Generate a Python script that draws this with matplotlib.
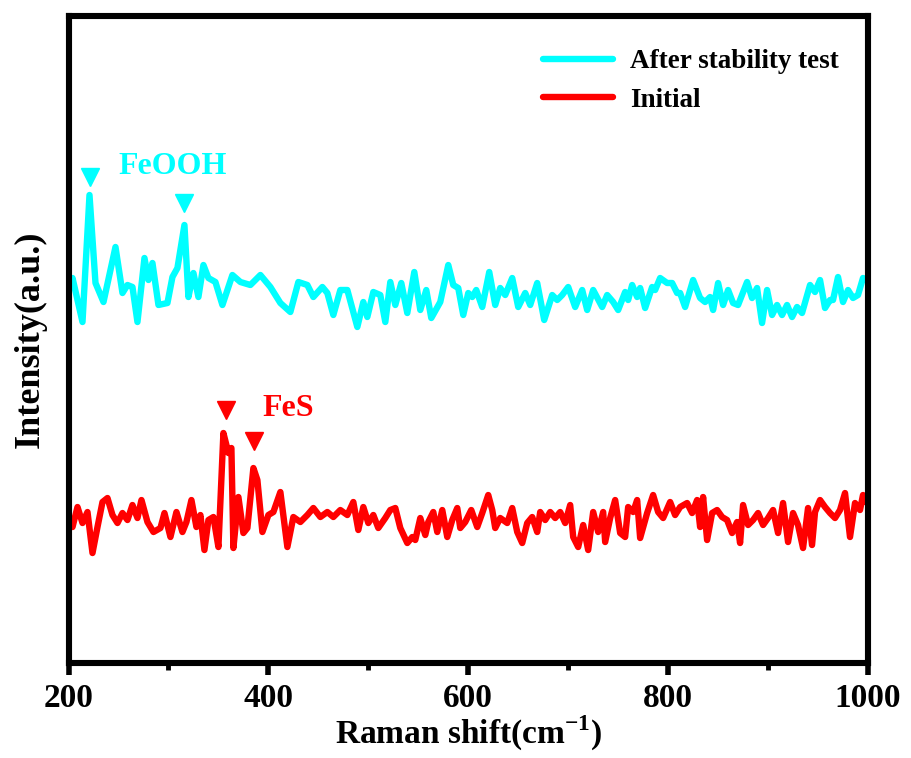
import matplotlib
matplotlib.use("Agg")
import matplotlib.pyplot as plt
from matplotlib.ticker import MultipleLocator

plt.rcParams['font.family'] = ['Liberation Serif', 'DejaVu Serif']
plt.rcParams['font.weight'] = 'bold'
plt.rcParams['mathtext.fontset'] = 'custom'
plt.rcParams['mathtext.rm'] = 'Liberation Serif:bold'
plt.rcParams['mathtext.bf'] = 'Liberation Serif:bold'

# ---- data: "After stability test" (cyan) ----
after_shift = [202, 204, 214, 221, 227, 235, 247, 254, 259, 264, 269, 276, 280, 284, 290,
               299, 304, 309, 316, 320, 325, 330, 335, 340, 347, 354, 364, 372, 382, 392,
               402, 412, 422, 430, 439, 445, 454, 459, 465, 472, 479, 489, 495, 499, 505,
               512, 517, 522, 527, 533, 539, 546, 552, 558, 563, 572, 580, 585, 590, 595,
               600, 604, 608, 614, 621, 627, 632, 637, 644, 650, 657, 662, 669, 676, 684,
               689, 694, 700, 707, 714, 719, 725, 734, 739, 745, 750, 757, 760, 764, 769,
               772, 777, 784, 787, 792, 799, 804, 809, 812, 817, 825, 832, 837, 842, 845,
               850, 855, 860, 865, 870, 879, 884, 889, 894, 899, 904, 909, 914, 919, 924,
               929, 934, 942, 947, 952, 957, 962, 965, 970, 975, 980, 985, 990, 995, 999]
after_int = [378, 385, 341, 468, 380, 361, 416, 370, 378, 376, 341, 405, 383, 400, 358,
             360, 386, 395, 438, 366, 390, 366, 398, 385, 381, 358, 388, 381, 378, 388,
             376, 360, 351, 381, 378, 366, 376, 370, 348, 373, 373, 336, 361, 346, 371,
             368, 341, 381, 358, 380, 350, 391, 353, 373, 345, 361, 398, 378, 375, 348,
             370, 366, 373, 356, 391, 358, 375, 368, 385, 356, 370, 358, 380, 343, 368,
             363, 368, 376, 356, 373, 353, 373, 356, 368, 361, 353, 371, 363, 378, 366,
             375, 355, 376, 373, 385, 380, 380, 370, 370, 356, 383, 365, 361, 366, 353,
             380, 358, 373, 360, 358, 381, 365, 375, 340, 373, 348, 358, 348, 358, 346,
             356, 350, 378, 371, 383, 355, 363, 363, 386, 361, 373, 365, 368, 385, 383]

# ---- data: "Initial" (red) ----
init_shift = [202, 204, 209, 214, 219, 224, 229, 234, 239, 244, 249, 254, 259, 264, 269,
              273, 279, 285, 292, 296, 302, 308, 314, 318, 323, 328, 332, 336, 340, 345,
              350, 355, 360, 363, 365, 370, 375, 379, 385, 389, 394, 400, 405, 412, 419,
              425, 432, 439, 445, 452, 459, 465, 472, 479, 485, 490, 495, 500, 505, 510,
              517, 522, 527, 532, 539, 544, 547, 552, 557, 560, 565, 569, 574, 579, 584,
              589, 592, 597, 603, 609, 614, 620, 624, 627, 632, 639, 644, 649, 654, 659,
              664, 669, 672, 677, 682, 687, 692, 697, 702, 705, 710, 715, 720, 725, 730,
              735, 737, 742, 747, 752, 757, 760, 765, 769, 772, 779, 785, 790, 795, 802,
              807, 812, 819, 824, 829, 832, 835, 839, 844, 849, 854, 859, 864, 869, 872,
              875, 880, 885, 890, 895, 900, 905, 910, 915, 920, 925, 930, 935, 940, 944,
              947, 952, 957, 962, 967, 972, 977, 982, 987, 992, 995, 999]
init_int = [140, 136, 156, 140, 151, 110, 136, 161, 165, 148, 140, 150, 143, 158, 145,
            163, 141, 131, 135, 150, 126, 151, 131, 141, 163, 136, 148, 113, 143, 146,
            116, 230, 210, 215, 115, 166, 130, 135, 195, 183, 131, 148, 151, 171, 116,
            146, 141, 148, 155, 146, 151, 146, 153, 148, 161, 133, 156, 140, 148, 135,
            145, 153, 155, 135, 120, 126, 123, 145, 128, 141, 151, 131, 153, 126, 143,
            155, 135, 141, 153, 136, 150, 168, 153, 135, 145, 140, 155, 131, 120, 140,
            146, 131, 151, 143, 151, 145, 151, 140, 158, 126, 116, 138, 113, 151, 131,
            151, 121, 145, 163, 130, 126, 156, 151, 163, 125, 150, 168, 151, 145, 161,
            148, 156, 160, 150, 163, 136, 166, 123, 150, 153, 146, 143, 130, 141, 120,
            158, 138, 143, 150, 138, 145, 153, 130, 160, 121, 150, 138, 115, 155, 118,
            151, 163, 156, 150, 145, 153, 170, 126, 160, 153, 168, 160]

# peak markers and labels
feooh_peaks = [222, 316]
feooh_marker_y = [486, 460]
fes_peaks = [358, 386]
fes_marker_y = [253, 222]

series_labels = ["After stability test", "Initial"]
xticks = [200, 400, 600, 800, 1000]

CYAN = "#00FFFF"
RED = "#FF0000"

fig = plt.figure(figsize=(9.11, 7.58), dpi=100)
ax = fig.add_axes([0.0752, 0.1253, 0.8776, 0.8536])

ax.plot(after_shift, after_int, color=CYAN, lw=4.6, solid_joinstyle='round',
        solid_capstyle='round', label=series_labels[0])
ax.plot(init_shift, init_int, color=RED, lw=4.6, solid_joinstyle='round',
        solid_capstyle='round', label=series_labels[1])

ax.plot(feooh_peaks, feooh_marker_y, linestyle='none', marker='v', ms=13,
        color=CYAN, mec=CYAN)
ax.plot(fes_peaks, fes_marker_y, linestyle='none', marker='v', ms=13,
        color=RED, mec=RED)
ax.text(250, 497, "FeOOH", color=CYAN, fontsize=23, fontweight='bold',
        ha='left', va='center')
ax.text(394, 255, "FeS", color=RED, fontsize=23, fontweight='bold',
        ha='left', va='center')

ax.set_xlim(200, 1000)
ax.set_ylim(0, 647)
ax.set_xticks(xticks)
ax.set_xticklabels([str(t) for t in xticks])
ax.xaxis.set_minor_locator(MultipleLocator(100))
ax.set_yticks([])
ax.tick_params(axis='x', which='major', direction='out', length=8.5, width=4,
               labelsize=24, pad=6)
ax.tick_params(axis='x', which='minor', direction='out', length=5, width=3.5)
for lab in ax.get_xticklabels():
    lab.set_fontweight('bold')

for sp in ax.spines.values():
    sp.set_linewidth(4.4)

ax.set_xlabel(r"Raman shift(cm$^{\mathbf{-1}}$)", fontsize=24, fontweight='bold', labelpad=0)
ax.set_ylabel("Intensity(a.u.)", fontsize=26, fontweight='bold', labelpad=16)

leg = ax.legend(loc='upper left', bbox_to_anchor=(0.596, 0.935),
                bbox_transform=fig.transFigure, frameon=False, fontsize=19.5,
                handlelength=2.6, handletextpad=0.62, labelspacing=0.5,
                borderpad=0, borderaxespad=0)
for t in leg.get_texts():
    t.set_fontweight('bold')

fig.savefig("out.png", dpi=100)
